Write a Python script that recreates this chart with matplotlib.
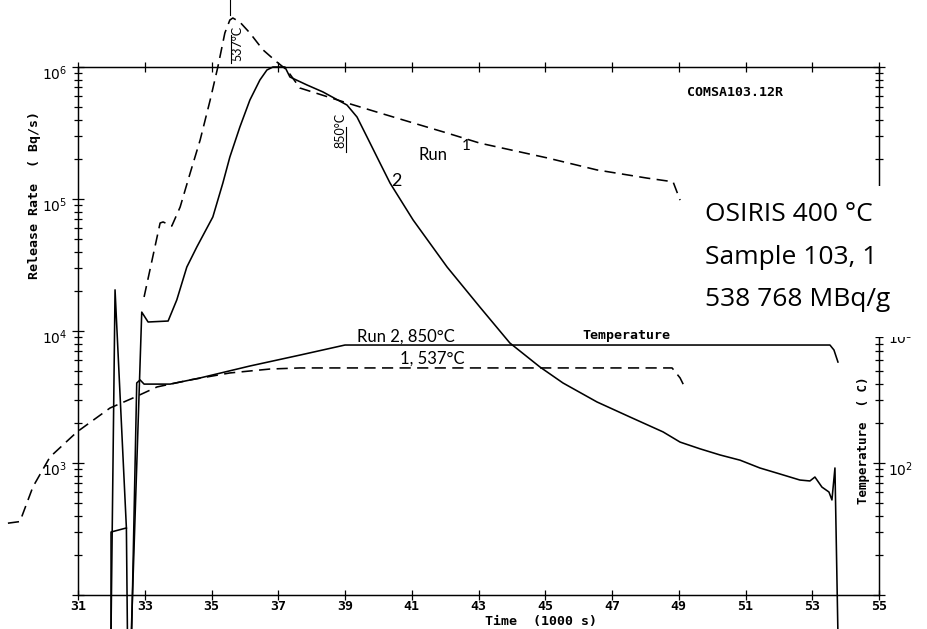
import math
import matplotlib
matplotlib.use("Agg")
import matplotlib.pyplot as plt
import matplotlib.transforms as mtransforms
from matplotlib.ticker import FixedLocator, FuncFormatter, LogLocator, NullFormatter
from matplotlib.patches import Rectangle

# ---------------- data (time in 1000 s, release in Bq/s, temperature in C) ----------------
run1_t = [32.98, 33.46, 33.55, 33.81, 34.06, 34.36, 34.66, 34.96, 35.19, 35.40, 35.55, 35.64,
          35.85, 36.15, 36.54, 36.96, 37.26, 37.65, 39.06, 40.05, 41.04, 42.06, 43.04, 45.05,
          46.55, 48.05, 48.83, 49.04]
run1_rate = [18100, 65800, 67000, 62400, 86900, 157000, 280000, 562000, 1.0e6, 1.81e6, 2.27e6,
             2.35e6, 2.19e6, 1.81e6, 1.35e6, 1.09e6, 949000, 693000, 534000, 448000, 377000,
             316000, 265000, 205000, 166000, 144000, 135000, 98000]

run2_t = [32.60, 32.91, 33.10, 33.70, 33.96, 34.26, 34.56, 35.04, 35.34, 35.55, 35.85, 36.15,
          36.45, 36.66, 36.84, 37.20, 37.35, 37.86, 38.34, 39.06, 39.36, 39.66, 40.05, 40.35,
          41.04, 42.06, 43.04, 43.94, 44.84, 45.53, 46.55, 47.54, 48.53, 49.04, 49.64, 50.24,
          50.84, 51.43, 52.03, 52.63, 52.93, 53.08, 53.29, 53.50, 53.59, 53.68, 53.77]
run2_rate = [55, 13900, 11700, 11900, 17200, 30500, 43300, 73100, 132000, 208000, 351000,
             562000, 797000, 949000, 1.0e6, 1.0e6, 840000, 731000, 647000, 515000, 418000,
             295000, 187000, 132000, 69400, 30500, 15200, 8110, 5340, 4040, 2900, 2230, 1720,
             1440, 1280, 1150, 1050, 917, 826, 743, 731, 783, 657, 603, 525, 917, 50]

spike_t = [31.99, 32.11, 32.45, 32.48]
spike_rate = [55, 20500, 322, 55]

base_t = [31.99, 31.99, 32.45]
base_rate = [55, 300, 322]

temp2_t = [32.61, 32.76, 32.86, 32.98, 33.76, 34.66, 36.15, 37.65, 39.00, 53.53, 53.65, 53.77]
temp2_c = [5.5, 404, 426, 396, 396, 441, 543, 657, 783, 783, 718, 582]

temp1_t = [28.90, 29.26, 29.65, 30.16, 30.97, 31.96, 32.65, 33.37, 34.36, 35.55, 36.75, 37.65,
           48.80, 49.04, 49.19]
temp1_c = [35, 36, 66, 111, 172, 261, 311, 377, 426, 481, 515, 525, 525, 441, 370]

x_ticks = [31, 33, 35, 37, 39, 41, 43, 45, 47, 49, 51, 53, 55]
left_labelled = [1e3, 1e4, 1e5, 1e6]
right_labelled = [1e2, 1e3]

# ---------------- styling ----------------
plt.rcParams['mathtext.fontset'] = 'custom'
plt.rcParams['mathtext.rm'] = 'DejaVu Sans Mono:bold'
plt.rcParams['mathtext.it'] = 'DejaVu Sans Mono:bold'
plt.rcParams['mathtext.bf'] = 'DejaVu Sans Mono:bold'

W, H = 927, 629
fig = plt.figure(figsize=(W / 100, H / 100), dpi=100)
fig.patch.set_facecolor('white')

def fx(px):
    return px / W

def fy(py):
    return 1 - py / H

ax = fig.add_axes([fx(78), fy(595), 801 / W, 528 / H])
ax.set_xlim(31, 55)
ax.set_yscale('log')
ax.set_ylim(1e2, 1e6)

ax2 = ax.twinx()
ax2.set_yscale('log')
ax2.set_ylim(10, 1e5)

mono = dict(family='DejaVu Sans Mono', weight='bold')
hand = dict(family='Lato')

lw = 1.15
ax.plot(run1_t, run1_rate, color='black', lw=lw, dashes=(7, 4), clip_on=False)
ax.plot(run2_t, run2_rate, color='black', lw=lw, clip_on=False)
ax.plot(spike_t, spike_rate, color='black', lw=lw, clip_on=False)
ax.plot(base_t, base_rate, color='black', lw=lw, clip_on=False)
ax2.plot(temp2_t, temp2_c, color='black', lw=lw, clip_on=False)
ax2.plot(temp1_t, temp1_c, color='black', lw=lw, dashes=(7, 4), clip_on=False)

# ticks
ax.xaxis.set_major_locator(FixedLocator(x_ticks))
ax.xaxis.set_major_formatter(FuncFormatter(lambda v, p: f"{int(round(v))}"))
ax.yaxis.set_major_locator(LogLocator(base=10, numticks=10))
ax.yaxis.set_minor_locator(LogLocator(base=10, subs=range(2, 10), numticks=20))
ax.yaxis.set_minor_formatter(NullFormatter())


def make_fmt(labelled):
    def fmt(v, p):
        for t in labelled:
            if abs(v - t) / t < 1e-6:
                return r"$\mathregular{10^{%d}}$" % round(math.log10(v))
        return ""
    return fmt


ax.yaxis.set_major_formatter(FuncFormatter(make_fmt(left_labelled)))
ax2.yaxis.set_major_locator(LogLocator(base=10, numticks=10))
ax2.yaxis.set_minor_locator(LogLocator(base=10, subs=range(2, 10), numticks=20))
ax2.yaxis.set_minor_formatter(NullFormatter())
ax2.yaxis.set_major_formatter(FuncFormatter(make_fmt(right_labelled)))

ax.tick_params(axis='x', which='major', direction='inout', length=7, width=0.9,
               top=True, bottom=True, pad=0, labelsize=9.5)
ax.tick_params(axis='y', which='major', direction='inout', length=9, width=0.9, pad=3,
               labelsize=10, right=False)
ax.tick_params(axis='y', which='minor', direction='inout', length=6, width=0.9, right=False)
ax2.tick_params(axis='y', which='major', direction='inout', length=9, width=0.9, pad=2,
                labelsize=10)
ax2.tick_params(axis='y', which='minor', direction='inout', length=6, width=0.9)
for lab in ax.get_xticklabels():
    lab.set_fontfamily('DejaVu Sans Mono')
    lab.set_fontweight('bold')

# plotter-style labels sit a little below their tick
off = mtransforms.ScaledTranslation(0, -4 / 72, fig.dpi_scale_trans)
for lab in ax.get_yticklabels() + ax2.get_yticklabels():
    lab.set_transform(lab.get_transform() + off)

for a in (ax, ax2):
    for s in a.spines.values():
        s.set_linewidth(0.9)
        s.set_color('black')

# axis titles
fig.text(fx(35), fy(195), "Release Rate  ( Bq/s)", rotation=90, ha='center', va='center',
         fontsize=9.5, **mono)
fig.text(fx(863), fy(440), "Temperature  ( C)", rotation=90, ha='center', va='center',
         fontsize=9, **mono)
fig.text(fx(541), fy(622), "Time  (1000 s)", ha='center', va='center', fontsize=9.5, **mono)
fig.text(fx(735), fy(92), "COMSA103.12R", ha='center', va='center', fontsize=9.5, **mono)
fig.text(fx(626), fy(336), "Temperature", ha='center', va='center', fontsize=9.5, **mono)

# handwritten notes
fig.text(fx(406), fy(337), "Run 2, 850°C", ha='center', va='center', fontsize=12, **hand)
fig.text(fx(432), fy(359), "1, 537°C", ha='center', va='center', fontsize=12, **hand)
fig.text(fx(433), fy(155), "Run", ha='center', va='center', fontsize=12, **hand)
fig.text(fx(466), fy(146), "1", ha='center', va='center', fontsize=11, **hand)
fig.text(fx(396), fy(181), "2", ha='center', va='center', fontsize=13, **hand)
fig.text(fx(237), fy(43), "537°C", rotation=90, ha='center', va='center', fontsize=9, **hand)
fig.text(fx(340), fy(130), "850°C", rotation=90, ha='center', va='center', fontsize=9, **hand)
fig.add_artist(plt.Line2D([fx(230), fx(230)], [fy(0), fy(15)], color='black', lw=0.8))
fig.add_artist(plt.Line2D([fx(231), fx(231)], [fy(35), fy(63)], color='black', lw=0.8))
fig.add_artist(plt.Line2D([fx(346), fx(346)], [fy(127), fy(152)], color='black', lw=0.8))

# overlay box with sample info (covers part of the right axis, as in the scan)
fig.add_artist(Rectangle((fx(692), fy(337)), 1 - fx(692), (337 - 186) / H,
                         transform=fig.transFigure, facecolor='white', edgecolor='none',
                         zorder=10))
for txt, py in [("OSIRIS 400 °C", 214), ("Sample 103, 1", 257), ("538 768 MBq/g", 300)]:
    fig.text(fx(705), fy(py), txt, ha='left', va='center', fontsize=19,
             family='Open Sans', zorder=11)

fig.savefig("out.png", dpi=100, facecolor='white')
